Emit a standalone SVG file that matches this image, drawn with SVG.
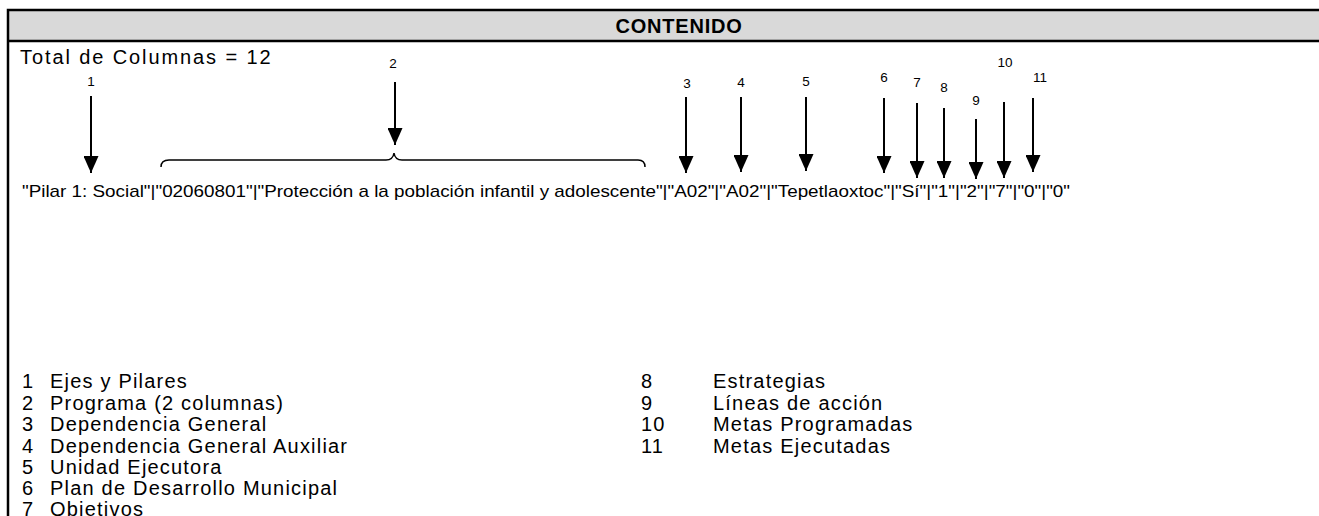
<svg xmlns="http://www.w3.org/2000/svg" width="1319" height="516" viewBox="0 0 1319 516">
<defs>
<style>
text{font-family:"Liberation Sans",Arial,sans-serif;fill:#000}
.hdr{font-size:20px;font-weight:bold;text-anchor:middle;letter-spacing:0.8px}
.big{font-size:20px;letter-spacing:1.2px}
.tot{font-size:20px;letter-spacing:1.9px}
.lbl{font-size:13.5px;text-anchor:middle}
.data{font-size:17px}
.conn line{stroke:#000;stroke-width:2;marker-end:url(#ah)}
.frame{stroke:#000;stroke-width:2.5;fill:none}
</style>
<marker id="ah" markerUnits="userSpaceOnUse" markerWidth="17" markerHeight="15" refX="17" refY="7.5" orient="auto" viewBox="0 0 17 15">
<path d="M0,0 L17,7.5 L0,15 z" fill="#000"/>
</marker>
</defs>
<rect x="0" y="0" width="1319" height="516" fill="#fff"/>
<g id="frame">
<rect x="8" y="10" width="1320" height="31" fill="#d9d9d9"/>
<path class="frame" d="M8,516 V10 H1330 M8,41 H1330"/>
<text class="hdr" x="679" y="33">CONTENIDO</text>
</g>
<g id="total"><text class="tot" x="20" y="64">Total de Columnas = 12</text></g>
<g id="labels">
<text class="lbl" x="91" y="86">1</text>
<text class="lbl" x="393" y="68">2</text>
<text class="lbl" x="687" y="88">3</text>
<text class="lbl" x="741" y="87">4</text>
<text class="lbl" x="806" y="86">5</text>
<text class="lbl" x="884" y="82">6</text>
<text class="lbl" x="917" y="87">7</text>
<text class="lbl" x="944" y="92">8</text>
<text class="lbl" x="976" y="105">9</text>
<text class="lbl" x="1005" y="67">10</text>
<text class="lbl" x="1040" y="82">11</text>
</g>
<g id="connectors" class="conn">
<line x1="91" y1="96" x2="91" y2="173"/>
<line x1="395" y1="82" x2="395" y2="145"/>
<line x1="686" y1="97" x2="686" y2="173"/>
<line x1="741" y1="97" x2="741" y2="172"/>
<line x1="806" y1="97" x2="806" y2="171"/>
<line x1="884" y1="98" x2="884" y2="173"/>
<line x1="917" y1="103" x2="917" y2="178"/>
<line x1="944" y1="108" x2="944" y2="178"/>
<line x1="976" y1="119" x2="976" y2="179"/>
<line x1="1004" y1="102" x2="1004" y2="178"/>
<line x1="1033" y1="98" x2="1033" y2="172"/>
</g>
<g id="brace">
<path d="M161,167 Q161,160 169,160 H386 Q393,160 394,153 Q395,160 402,160 H638 Q645,160 645,167" fill="none" stroke="#000" stroke-width="1.5"/>
</g>
<g id="data">
<text class="data" x="22" y="197" textLength="1048" lengthAdjust="spacingAndGlyphs">"Pilar 1: Social"|"02060801"|"Protección a la población infantil y adolescente"|"A02"|"A02"|"Tepetlaoxtoc"|"Sí"|"1"|"2"|"7"|"0"|"0"</text>
</g>
<g id="legend">
<text class="big" x="22" y="388">1</text><text class="big" x="50" y="388">Ejes y Pilares</text>
<text class="big" x="22" y="410">2</text><text class="big" x="50" y="410">Programa (2 columnas)</text>
<text class="big" x="22" y="431">3</text><text class="big" x="50" y="431">Dependencia General</text>
<text class="big" x="22" y="453">4</text><text class="big" x="50" y="453">Dependencia General Auxiliar</text>
<text class="big" x="22" y="474">5</text><text class="big" x="50" y="474">Unidad Ejecutora</text>
<text class="big" x="22" y="495">6</text><text class="big" x="50" y="495">Plan de Desarrollo Municipal</text>
<text class="big" x="22" y="516">7</text><text class="big" x="50" y="516">Objetivos</text>
<text class="big" x="641" y="388">8</text><text class="big" x="713" y="388">Estrategias</text>
<text class="big" x="641" y="410">9</text><text class="big" x="713" y="410">Líneas de acción</text>
<text class="big" x="641" y="431">10</text><text class="big" x="713" y="431">Metas Programadas</text>
<text class="big" x="641" y="453">11</text><text class="big" x="713" y="453">Metas Ejecutadas</text>
</g>
</svg>
